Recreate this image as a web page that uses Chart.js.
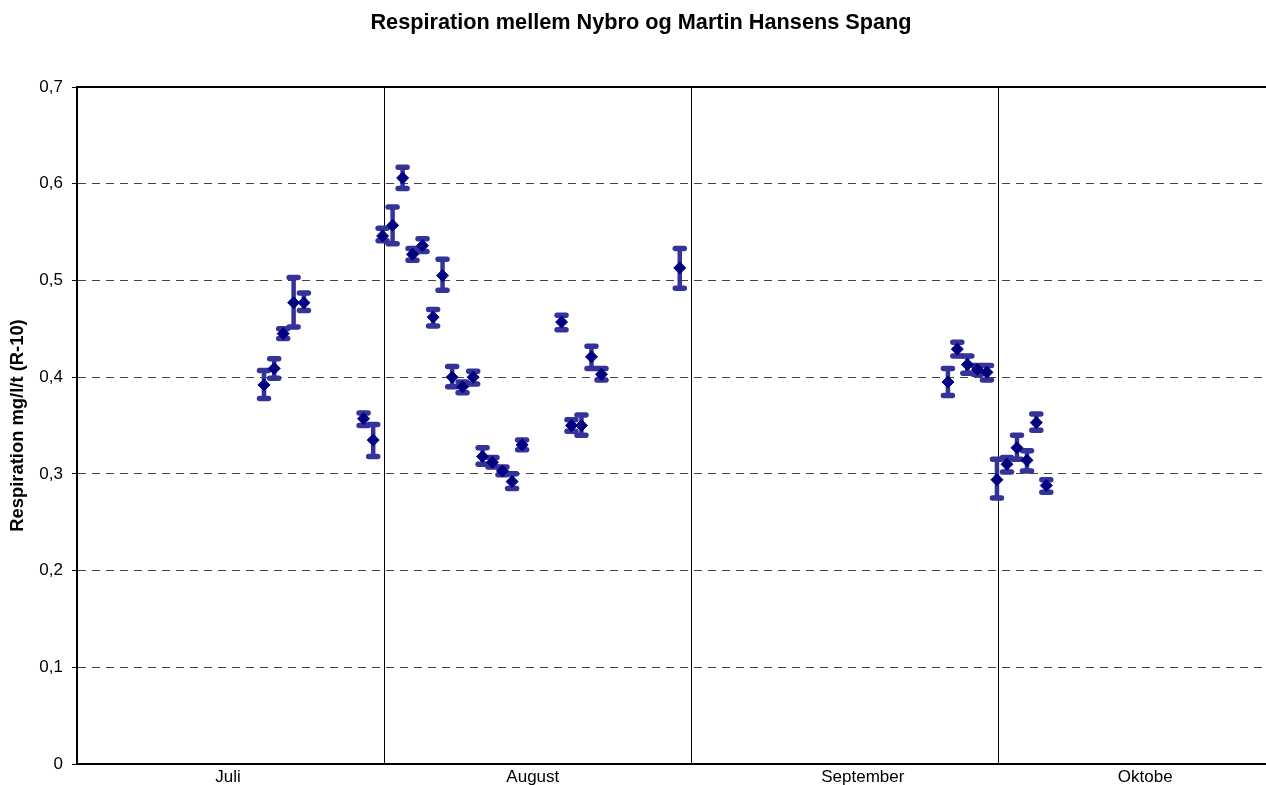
<!DOCTYPE html>
<html>
<head>
<meta charset="utf-8">
<script src="https://cdn.jsdelivr.net/npm/chart.js@4.4.0/dist/chart.umd.min.js"></script>
<style>
html, body { margin: 0; padding: 0; background: #fff; overflow: hidden; }
#wrap { width: 1282px; height: 785px; }
</style>
</head>
<body>
<div id="wrap"><canvas id="chart"></canvas></div>
<script>
// days counted from 1 July, every month drawn as 31 days wide
let days = [18.87, 19.90, 20.81, 21.86, 22.90, 28.92, 29.89,
    30.84, 31.85, 32.86, 33.86, 34.87, 35.94, 36.89, 37.86, 38.91, 39.98,
    40.93, 41.93, 42.94, 43.91, 44.92, 48.90, 49.90, 50.91, 51.92, 52.93, 60.83,
    87.89, 88.84, 89.85, 90.86, 91.83, 92.84, 93.85, 94.86, 95.87, 96.81, 97.82];
let resp = [0.392, 0.409, 0.445, 0.477, 0.477, 0.357, 0.335,
    0.546, 0.557, 0.606, 0.527, 0.536, 0.462, 0.505, 0.400, 0.390, 0.400,
    0.318, 0.312, 0.303, 0.292, 0.330, 0.457, 0.350, 0.350, 0.421, 0.403, 0.513,
    0.395, 0.429, 0.413, 0.408, 0.405, 0.294, 0.310, 0.327, 0.314, 0.353, 0.288];
let errLow = [0.378, 0.399, 0.440, 0.452, 0.469, 0.350, 0.318,
    0.541, 0.538, 0.595, 0.521, 0.530, 0.453, 0.490, 0.390, 0.384, 0.393,
    0.310, 0.307, 0.299, 0.285, 0.325, 0.449, 0.344, 0.340, 0.409, 0.397, 0.492,
    0.381, 0.422, 0.404, 0.403, 0.397, 0.275, 0.302, 0.315, 0.303, 0.345, 0.281];
let errHigh = [0.407, 0.419, 0.450, 0.503, 0.487, 0.363, 0.351,
    0.554, 0.576, 0.617, 0.533, 0.543, 0.470, 0.522, 0.411, 0.395, 0.406,
    0.327, 0.317, 0.307, 0.300, 0.335, 0.464, 0.356, 0.361, 0.432, 0.409, 0.533,
    0.409, 0.436, 0.422, 0.412, 0.412, 0.315, 0.317, 0.340, 0.324, 0.362, 0.294];

let monthNames = ['Juli', 'August', 'September', 'Oktobe'];
let monthLabelPos = [15.25, 46.0, 79.3, 107.8];
let monthBounds = [31, 62, 93];
let yTicks = [0, 0.1, 0.2, 0.3, 0.4, 0.5, 0.6, 0.7];

Chart.defaults.font.family = "'Liberation Sans', Arial, sans-serif";
Chart.defaults.color = '#000';

// error bars + top frame line, drawn under the diamonds
const errorBars = {
    id: 'errorBars',
    beforeDatasetsDraw(chart) {
        const {ctx, chartArea} = chart;
        const x = chart.scales.x, y = chart.scales.y;
        ctx.save();
        ctx.strokeStyle = '#000';
        ctx.lineWidth = 2;
        ctx.beginPath();
        ctx.moveTo(chartArea.left, chartArea.top);
        ctx.lineTo(chartArea.right, chartArea.top);
        ctx.stroke();

        ctx.strokeStyle = '#333399';
        ctx.lineCap = 'round';
        days.forEach((d, i) => {
            let px = x.getPixelForValue(d);
            let lo = y.getPixelForValue(errLow[i]);
            let hi = y.getPixelForValue(errHigh[i]);
            ctx.lineWidth = 4.5;
            ctx.beginPath();
            ctx.moveTo(px, lo);
            ctx.lineTo(px, hi);
            ctx.stroke();
            ctx.lineWidth = 5.5;
            ctx.beginPath();
            ctx.moveTo(px - 4.5, lo); ctx.lineTo(px + 4.5, lo);
            ctx.moveTo(px - 4.5, hi); ctx.lineTo(px + 4.5, hi);
            ctx.stroke();
        });
        ctx.restore();
    }
};

new Chart(document.getElementById('chart').getContext('2d'), {
    type: 'scatter',
    data: {
        datasets: [{
            data: days.map((d, i) => ({x: d, y: resp[i]})),
            pointStyle: 'rectRot',
            pointRadius: 6,
            backgroundColor: '#000080',
            borderColor: '#000080',
            borderWidth: 1
        }]
    },
    options: {
        responsive: true,
        maintainAspectRatio: false,
        animation: false,
        layout: { padding: 0 },
        plugins: {
            legend: { display: false },
            tooltip: { enabled: false },
            title: {
                display: true,
                text: 'Respiration mellem Nybro og Martin Hansens Spang',
                color: '#000',
                font: { size: 21.7, weight: 'bold' },
                padding: { top: 10, bottom: 51 }
            }
        },
        scales: {
            x: {
                type: 'linear',
                min: 0,
                max: 120.9,
                afterBuildTicks: scale => {
                    scale.ticks = monthLabelPos.concat(monthBounds).sort((a, b) => a - b).map(v => ({value: v}));
                },
                afterFit: scale => { scale.height = 21; },
                ticks: {
                    autoSkip: false,
                    maxRotation: 0,
                    padding: 3,
                    font: { size: 17 },
                    callback: v => {
                        let i = monthLabelPos.indexOf(v);
                        return i >= 0 ? monthNames[i] : '';
                    }
                },
                grid: {
                    drawTicks: false,
                    lineWidth: 1,
                    color: c => (c.tick && monthBounds.includes(c.tick.value)) ? '#000' : 'rgba(0,0,0,0)'
                },
                border: { color: '#000', width: 2 }
            },
            y: {
                min: 0,
                max: 0.7,
                afterBuildTicks: scale => { scale.ticks = yTicks.map(v => ({value: v})); },
                afterFit: scale => { scale.width = 77; },
                ticks: {
                    padding: 9,
                    font: { size: 17 },
                    callback: v => v === 0 ? '0' : v.toFixed(1).replace('.', ',')
                },
                grid: {
                    lineWidth: 1,
                    tickLength: 5,
                    tickColor: '#000',
                    tickBorderDash: [],
                    color: c => (c.tick && (c.tick.value === 0 || c.tick.value === 0.7)) ? 'rgba(0,0,0,0)' : '#444'
                },
                border: { color: '#000', width: 2, dash: [8, 6] },
                title: {
                    display: true,
                    text: 'Respiration mg/l/t (R-10)',
                    color: '#000',
                    font: { size: 18.4, weight: 'bold' },
                    padding: { top: 7, bottom: 0 }
                }
            }
        }
    },
    plugins: [errorBars]
});
</script>
</body>
</html>
